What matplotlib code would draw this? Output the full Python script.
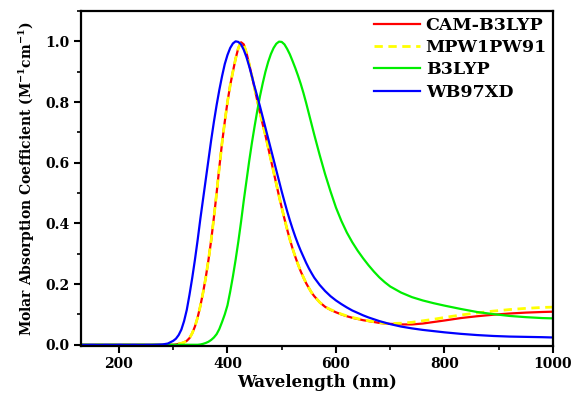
import numpy as np
import matplotlib
matplotlib.use("Agg")
import matplotlib.pyplot as plt
from matplotlib.ticker import MultipleLocator

# wavelength grid (nm) shared by all spectra
wavelength = [130, 200, 260, 280, 290,
              300, 305, 310, 315, 320, 325, 330, 335, 340, 345, 350, 355, 360, 365, 370, 375,
              380, 385, 390, 395, 400, 405, 410, 415, 420, 425, 430, 435, 440, 445, 450, 455,
              460, 465, 470, 475, 480, 485, 490, 495, 500, 505, 510, 515, 520, 525, 530, 535,
              540, 545, 550, 555, 560, 570, 580, 590, 600, 610, 620, 630, 640, 650, 660, 670,
              680, 690, 700, 720, 740, 760, 780, 800, 830, 860, 890, 920, 950, 980, 1000]

cam_b3lyp = [0, 0, 0, 0, 0,
             0.0, 0.001, 0.003, 0.005, 0.008, 0.013, 0.022, 0.038, 0.06, 0.09, 0.128, 0.172, 0.222, 0.28, 0.345, 0.42,
             0.50, 0.585, 0.665, 0.735, 0.80, 0.855, 0.90, 0.943, 0.978, 0.997, 0.99, 0.962, 0.925, 0.885, 0.845, 0.804,
             0.764, 0.726, 0.69, 0.65, 0.61, 0.57, 0.53, 0.49, 0.452, 0.415, 0.38, 0.347, 0.317, 0.29, 0.265, 0.242,
             0.222, 0.203, 0.187, 0.172, 0.16, 0.14, 0.125, 0.115, 0.107, 0.10, 0.094, 0.089, 0.085, 0.081, 0.078, 0.075,
             0.072, 0.07, 0.069, 0.067, 0.067, 0.07, 0.075, 0.08, 0.088, 0.094, 0.099, 0.103, 0.106, 0.108, 0.109]

mpw1pw91 = [0, 0, 0, 0, 0,
            0.0, 0.001, 0.003, 0.005, 0.008, 0.013, 0.022, 0.038, 0.06, 0.09, 0.128, 0.172, 0.222, 0.28, 0.345, 0.42,
            0.50, 0.585, 0.665, 0.735, 0.80, 0.855, 0.90, 0.943, 0.978, 0.997, 0.99, 0.962, 0.925, 0.885, 0.845, 0.804,
            0.764, 0.726, 0.69, 0.65, 0.61, 0.57, 0.53, 0.49, 0.452, 0.415, 0.38, 0.347, 0.317, 0.29, 0.265, 0.242,
            0.222, 0.203, 0.187, 0.172, 0.16, 0.14, 0.125, 0.116, 0.108, 0.101, 0.095, 0.09, 0.086, 0.082, 0.079, 0.076,
            0.073, 0.071, 0.07, 0.071, 0.074, 0.079, 0.084, 0.09, 0.098, 0.105, 0.111, 0.116, 0.12, 0.123, 0.124]

b3lyp = [0, 0, 0, 0, 0,
         0, 0, 0, 0, 0, 0, 0, 0, 0, 0.0, 0.001, 0.003, 0.006, 0.01, 0.016, 0.024,
         0.035, 0.052, 0.075, 0.10, 0.13, 0.175, 0.225, 0.28, 0.34, 0.405, 0.475, 0.54, 0.605, 0.665, 0.72, 0.772,
         0.82, 0.862, 0.90, 0.932, 0.958, 0.978, 0.992, 0.999, 0.998, 0.99, 0.975, 0.957, 0.935, 0.912, 0.887, 0.86,
         0.83, 0.797, 0.762, 0.727, 0.692, 0.625, 0.562, 0.505, 0.452, 0.408, 0.37, 0.338, 0.31, 0.285, 0.262, 0.241,
         0.222, 0.206, 0.192, 0.172, 0.157, 0.146, 0.137, 0.129, 0.118, 0.108, 0.101, 0.095, 0.091, 0.088, 0.087]

wb97xd = [0, 0, 0, 0.001, 0.004,
          0.013, 0.02, 0.032, 0.05, 0.078, 0.115, 0.165, 0.22, 0.28, 0.345, 0.415, 0.48, 0.545, 0.61, 0.675, 0.735,
          0.79, 0.84, 0.885, 0.925, 0.955, 0.978, 0.993, 1.0, 0.998, 0.99, 0.972, 0.948, 0.918, 0.885, 0.85, 0.818,
          0.785, 0.75, 0.715, 0.68, 0.645, 0.61, 0.575, 0.54, 0.505, 0.472, 0.44, 0.41, 0.382, 0.356, 0.332, 0.31,
          0.29, 0.27, 0.252, 0.236, 0.221, 0.197, 0.177, 0.16, 0.146, 0.134, 0.123, 0.113, 0.105, 0.097, 0.09, 0.084,
          0.078, 0.073, 0.068, 0.06, 0.054, 0.049, 0.045, 0.041, 0.036, 0.032, 0.029, 0.027, 0.026, 0.025, 0.024]

plt.rcParams['font.family'] = 'DejaVu Serif'
plt.rcParams['font.weight'] = 'bold'
plt.rcParams['mathtext.fontset'] = 'dejavuserif'
plt.rcParams['mathtext.default'] = 'bf'

fig = plt.figure(figsize=(5.74, 3.98), dpi=100)
ax = fig.add_axes([0.1411, 0.1307, 0.8223, 0.8417])

ax.plot(wavelength, cam_b3lyp, color='#ff0000', lw=1.6, label='CAM-B3LYP')
ax.plot(wavelength, mpw1pw91, color='#ffff00', lw=2.0, ls=(0, (3, 2)), label='MPW1PW91')
ax.plot(wavelength, b3lyp, color='#00ee00', lw=1.6, label='B3LYP')
ax.plot(wavelength, wb97xd, color='#0000ff', lw=1.6, label='WB97XD')

ax.set_xlim(130, 1000)
ax.set_ylim(-0.004, 1.1)
ax.xaxis.set_major_locator(MultipleLocator(200))
ax.xaxis.set_minor_locator(MultipleLocator(100))
ax.yaxis.set_minor_locator(MultipleLocator(0.1))
ax.set_yticks(np.arange(0, 1.01, 0.2))
ax.set_yticklabels(['0.0', '0.2', '0.4', '0.6', '0.8', '1.0'])

ax.tick_params(which='major', direction='out', length=5, width=1.5, labelsize=10, pad=3)
ax.tick_params(which='minor', direction='out', length=3, width=1.2)
for sp in ax.spines.values():
    sp.set_linewidth(1.6)

ax.set_xlabel('Wavelength (nm)', fontsize=12, fontweight='bold', labelpad=2)
ax.set_ylabel('Molar Absorption Coefficient (M$^{-1}$cm$^{-1}$)', fontsize=10, fontweight='bold', labelpad=6)

ax.legend(loc='upper right', frameon=False, fontsize=12.5, handlelength=2.7,
          labelspacing=0.3, handletextpad=0.3, borderaxespad=0.1, borderpad=0.25)

fig.savefig('out.png', dpi=100)
